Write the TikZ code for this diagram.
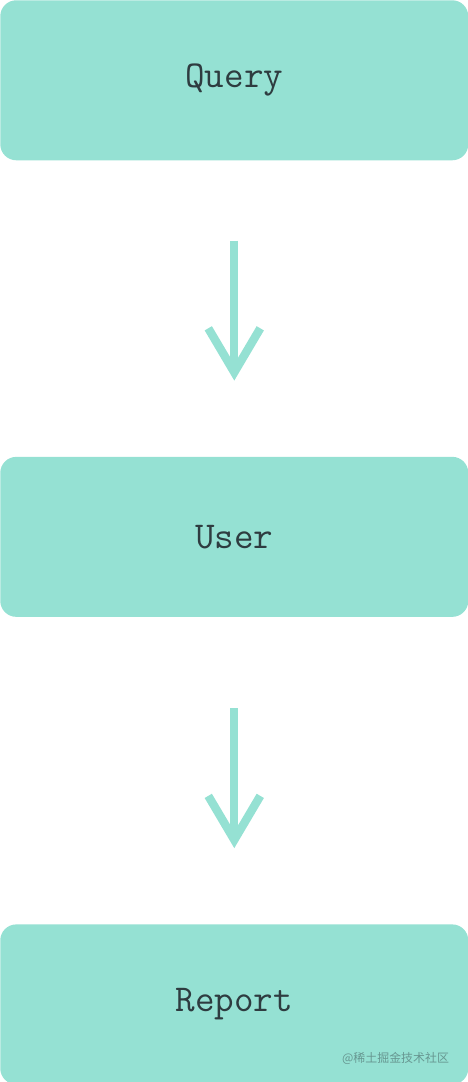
\documentclass[tikz,border=0pt]{standalone}
\usepackage{fontspec}
\newfontfamily\cjk{Noto Sans CJK SC}
\usetikzlibrary{positioning,arrows.meta}
\definecolor{boxfill}{HTML}{95E1D3}
\definecolor{boxtext}{HTML}{2E3C40}
\tikzset{
  box/.style={fill=boxfill, rounded corners=0.4cm, minimum width=11.7cm,
    minimum height=4cm, inner sep=0pt, text=boxtext,
    font=\ttfamily\fontsize{27}{30}\selectfont},
  flow/.style={draw=boxfill, line width=0.21cm,
    -{Straight Barb[length=1.1cm, width=1.3cm]}},
}

\begin{document}
\begin{tikzpicture}[]
    \useasboundingbox (0,0) rectangle (11.7,-27.05);
    \node[box, anchor=north west] at (0,0) (query) {Query}; %
    \node[box, below=7.4cm of query]       (user)   {User};
    \node[box, below=7.675cm of user]      (report) {Report};
    \coordinate[below=2cm of query.south]  (q1);
    \coordinate[above=1.9cm of user.north] (u0);
    \coordinate[below=2.275cm of user.south] (u1);
    \coordinate[above=1.9cm of report.north] (r0);
    \draw[flow] (q1) -- (u0);
    \draw[flow] (u1) -- (r0);
    \node[text=boxtext!45!boxfill, font=\cjk\fontsize{8.5}{8.5}\selectfont,
      anchor=south east] at (11.35,-26.75) (mark) {@稀土掘金技术社区};
\end{tikzpicture}
\end{document}
